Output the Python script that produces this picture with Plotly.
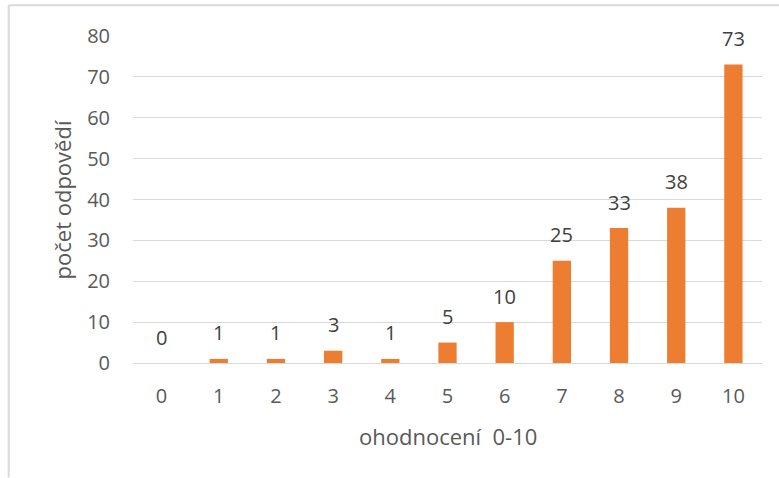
import plotly.graph_objects as go

# Hodnocení 0-10 a počet odpovědí pro každou známku
scores = ["0", "1", "2", "3", "4", "5", "6", "7", "8", "9", "10"]
counts = [0, 1, 1, 3, 1, 5, 10, 25, 33, 38, 73]
y_ticks = [0, 10, 20, 30, 40, 50, 60, 70, 80]

x_title = "ohodnocení  0-10"
y_title = "počet odpovědí"

BAR = "#ED7D31"
GRID = "#D9D9D9"
TICK = "#595959"
LABEL = "#404040"
FONT = "Open Sans, Segoe UI, sans-serif"

fig = go.Figure()
fig.add_trace(go.Bar(
    x=scores,
    y=counts,
    marker=dict(color=BAR, line=dict(width=0)),
    width=0.32,
    hoverinfo="x+y",
))

# value labels above each bar
for s, c in zip(scores, counts):
    fig.add_annotation(
        x=s, y=c, xref="x", yref="y",
        text=str(c), showarrow=False,
        yanchor="middle", yshift=26,
        font=dict(family=FONT, size=20, color=LABEL),
    )

# axis titles
fig.add_annotation(
    x=0.5, y=-0.222, xref="paper", yref="paper",
    text=x_title.replace(" ", "&nbsp;"), showarrow=False,
    xanchor="center", yanchor="middle",
    font=dict(family=FONT, size=22, color=TICK),
)
fig.add_annotation(
    x=-0.113, y=0.5, xref="paper", yref="paper",
    text=y_title, showarrow=False, textangle=-90,
    xanchor="center", yanchor="middle",
    font=dict(family=FONT, size=22, color=TICK),
)

# chart frame: left edge and top edge
fig.add_shape(type="line", xref="paper", yref="paper",
              x0=-0.1976, x1=-0.1976, y0=-0.35, y1=1.094,
              line=dict(color=GRID, width=2))
fig.add_shape(type="line", xref="paper", yref="paper",
              x0=-0.1976, x1=1.03, y0=1.094, y1=1.094,
              line=dict(color=GRID, width=2))

fig.update_layout(
    width=779, height=478,
    margin=dict(l=133, r=17, t=36, b=115),
    paper_bgcolor="white", plot_bgcolor="white",
    showlegend=False,
    font=dict(family=FONT, size=20, color=TICK),
    xaxis=dict(
        type="category",
        range=[-0.5, 10.5],
        showgrid=False,
        showline=False,
        zeroline=False,
        ticks="",
        ticklabelstandoff=19,
        tickfont=dict(family=FONT, size=20, color=TICK),
    ),
    yaxis=dict(
        range=[0, 80],
        tickvals=y_ticks,
        showgrid=True, gridcolor=GRID, gridwidth=1,
        zeroline=True, zerolinecolor=GRID, zerolinewidth=1,
        showline=False,
        ticks="",
        ticklabelstandoff=22,
        tickfont=dict(family=FONT, size=20, color=TICK),
    ),
)

fig.write_html("out.html")
